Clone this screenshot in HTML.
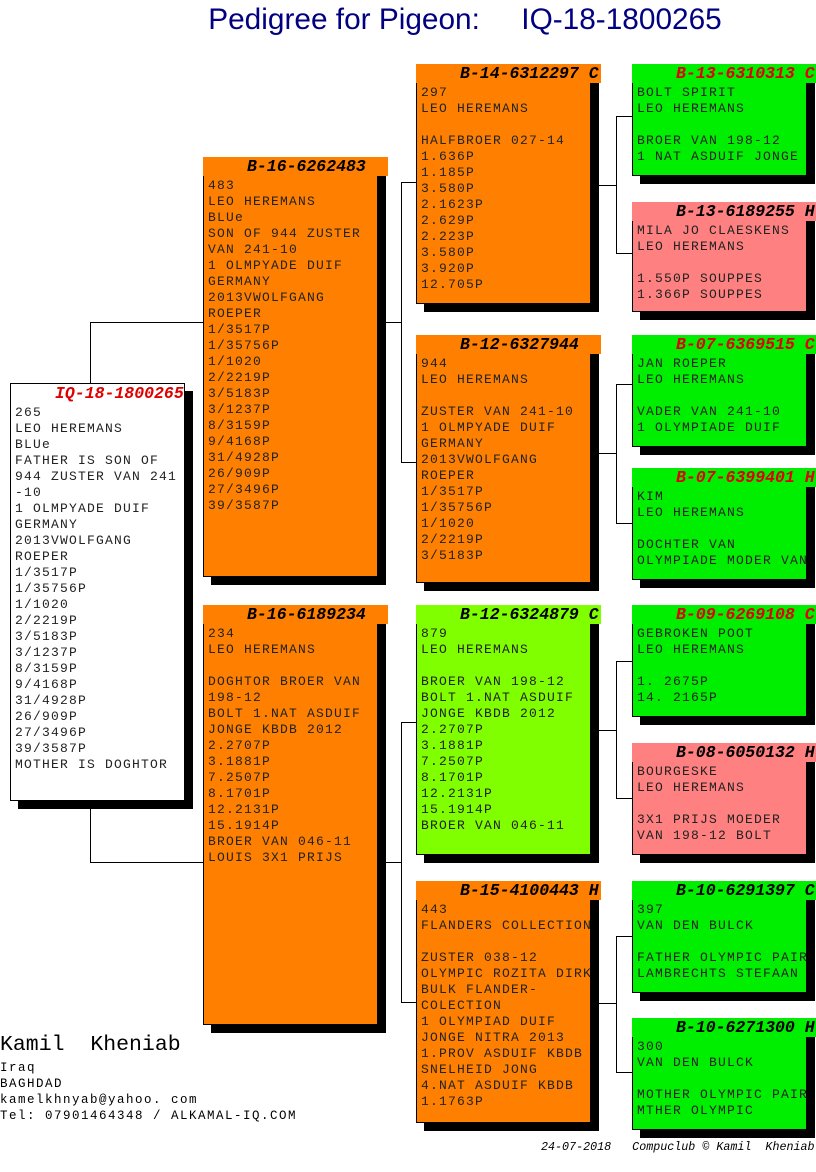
<!DOCTYPE html>
<html><head><meta charset="utf-8"><style>
body{margin:0;width:816px;height:1172px;background:#fff;position:relative;overflow:hidden;font-family:"Liberation Mono",monospace}
.sh{position:absolute;background:#000}
.b{position:absolute;border:1px solid #000;box-sizing:border-box}
.hx{position:absolute;height:19px}
.t{position:absolute;left:44px;font:bold italic 16.5px "Liberation Mono",monospace;white-space:pre;line-height:19px;top:0}
.c{position:absolute;left:4px;top:21px;font-size:13px;letter-spacing:1.2px;line-height:16px;white-space:pre;color:#222}
.l{position:absolute;background:#000}
.o{background:#ff8000}.g{background:#00ee00}.p{background:#ff8080}.lg{background:#80ff00}.w{background:#fff}
</style></head><body>
<div style="position:absolute;left:0;width:930px;top:3px;text-align:center;font:29.8px 'Liberation Sans',sans-serif;color:#000080;white-space:pre">Pedigree for Pigeon:     IQ-18-1800265</div>

<!-- connectors -->
<div class="l" style="left:90px;top:322px;width:1px;height:61px"></div>
<div class="l" style="left:90px;top:322px;width:113px;height:1px"></div>
<div class="l" style="left:90px;top:802px;width:1px;height:60px"></div>
<div class="l" style="left:90px;top:862px;width:113px;height:1px"></div>
<div class="l" style="left:386px;top:322px;width:15px;height:1px"></div>
<div class="l" style="left:401px;top:182px;width:1px;height:280px"></div>
<div class="l" style="left:401px;top:182px;width:15px;height:1px"></div>
<div class="l" style="left:401px;top:462px;width:15px;height:1px"></div>
<div class="l" style="left:386px;top:862px;width:15px;height:1px"></div>
<div class="l" style="left:401px;top:722px;width:1px;height:280px"></div>
<div class="l" style="left:401px;top:722px;width:15px;height:1px"></div>
<div class="l" style="left:401px;top:1002px;width:15px;height:1px"></div>
<div class="l" style="left:599px;top:185px;width:17px;height:1px"></div>
<div class="l" style="left:616px;top:116px;width:1px;height:137px"></div>
<div class="l" style="left:616px;top:116px;width:16px;height:1px"></div>
<div class="l" style="left:616px;top:253px;width:16px;height:1px"></div>
<div class="l" style="left:599px;top:453px;width:17px;height:1px"></div>
<div class="l" style="left:616px;top:384px;width:1px;height:139px"></div>
<div class="l" style="left:616px;top:384px;width:16px;height:1px"></div>
<div class="l" style="left:616px;top:523px;width:16px;height:1px"></div>
<div class="l" style="left:599px;top:730px;width:17px;height:1px"></div>
<div class="l" style="left:616px;top:661px;width:1px;height:137px"></div>
<div class="l" style="left:616px;top:661px;width:16px;height:1px"></div>
<div class="l" style="left:616px;top:798px;width:16px;height:1px"></div>
<div class="l" style="left:599px;top:1003px;width:17px;height:1px"></div>
<div class="l" style="left:616px;top:936px;width:1px;height:136px"></div>
<div class="l" style="left:616px;top:936px;width:16px;height:1px"></div>
<div class="l" style="left:616px;top:1072px;width:16px;height:1px"></div>

<!-- root -->
<div class="sh" style="left:18px;top:391px;width:175px;height:418px"></div>
<div class="b w" style="left:10px;top:383px;width:175px;height:418px">
<div class="t" style="left:44px;color:#e00000">IQ-18-1800265</div>
<div class="c">265
LEO HEREMANS
BLUe
FATHER IS SON OF
944 ZUSTER VAN 241
-10
1 OLMPYADE DUIF
GERMANY
2013VWOLFGANG
ROEPER
1/3517P
1/35756P
1/1020
2/2219P
3/5183P
3/1237P
8/3159P
9/4168P
31/4928P
26/909P
27/3496P
39/3587P
MOTHER IS DOGHTOR</div></div>

<!-- gen1 -->
<div class="sh" style="left:211px;top:165px;width:175px;height:420px"></div>
<div class="b o" style="left:203px;top:157px;width:175px;height:420px;border-top:none">
<div class="c">483
LEO HEREMANS
BLUe
SON OF 944 ZUSTER
VAN 241-10
1 OLMPYADE DUIF
GERMANY
2013VWOLFGANG
ROEPER
1/3517P
1/35756P
1/1020
2/2219P
3/5183P
3/1237P
8/3159P
9/4168P
31/4928P
26/909P
27/3496P
39/3587P</div></div>
<div class="hx o" style="left:203px;top:157px;width:185px"><div class="t">B-16-6262483</div></div>

<div class="sh" style="left:211px;top:613px;width:175px;height:420px"></div>
<div class="b o" style="left:203px;top:605px;width:175px;height:420px;border-top:none">
<div class="c">234
LEO HEREMANS

DOGHTOR BROER VAN
198-12
BOLT 1.NAT ASDUIF
JONGE KBDB 2012
2.2707P
3.1881P
7.2507P
8.1701P
12.2131P
15.1914P
BROER VAN 046-11
LOUIS 3X1 PRIJS</div></div>
<div class="hx o" style="left:203px;top:605px;width:185px"><div class="t">B-16-6189234</div></div>

<!-- gen2 -->
<div class="sh" style="left:424px;top:72px;width:175px;height:240px"></div>
<div class="b o" style="left:416px;top:64px;width:175px;height:240px;border-top:none">
<div class="c">297
LEO HEREMANS

HALFBROER 027-14
1.636P
1.185P
3.580P
2.1623P
2.629P
2.223P
3.580P
3.920P
12.705P</div></div>
<div class="hx o" style="left:416px;top:64px;width:185px"><div class="t">B-14-6312297 C</div></div>

<div class="sh" style="left:424px;top:343px;width:175px;height:248px"></div>
<div class="b o" style="left:416px;top:335px;width:175px;height:248px;border-top:none">
<div class="c">944
LEO HEREMANS

ZUSTER VAN 241-10
1 OLMPYADE DUIF
GERMANY
2013VWOLFGANG
ROEPER
1/3517P
1/35756P
1/1020
2/2219P
3/5183P</div></div>
<div class="hx o" style="left:416px;top:335px;width:185px"><div class="t">B-12-6327944</div></div>

<div class="sh" style="left:424px;top:613px;width:175px;height:250px"></div>
<div class="b lg" style="left:416px;top:605px;width:175px;height:250px;border-top:none">
<div class="c">879
LEO HEREMANS

BROER VAN 198-12
BOLT 1.NAT ASDUIF
JONGE KBDB 2012
2.2707P
3.1881P
7.2507P
8.1701P
12.2131P
15.1914P
BROER VAN 046-11</div></div>
<div class="hx lg" style="left:416px;top:605px;width:185px"><div class="t">B-12-6324879 C</div></div>

<div class="sh" style="left:424px;top:889px;width:175px;height:242px"></div>
<div class="b o" style="left:416px;top:881px;width:175px;height:242px;border-top:none">
<div class="c">443
FLANDERS COLLECTION

ZUSTER 038-12
OLYMPIC ROZITA DIRK
BULK FLANDER-
COLECTION
1 OLYMPIAD DUIF
JONGE NITRA 2013
1.PROV ASDUIF KBDB
SNELHEID JONG
4.NAT ASDUIF KBDB
1.1763P</div></div>
<div class="hx o" style="left:416px;top:881px;width:185px"><div class="t">B-15-4100443 H</div></div>

<!-- gen3 -->
<div class="sh" style="left:640px;top:72px;width:175px;height:112px"></div>
<div class="b g" style="left:632px;top:64px;width:175px;height:112px;border-top:none">
<div class="c">BOLT SPIRIT
LEO HEREMANS

BROER VAN 198-12
1 NAT ASDUIF JONGE</div></div>
<div class="hx g" style="left:632px;top:64px;width:190px"><div class="t" style="color:#e00000">B-13-6310313 C</div></div>

<div class="sh" style="left:640px;top:210px;width:175px;height:110px"></div>
<div class="b p" style="left:632px;top:202px;width:175px;height:110px;border-top:none">
<div class="c">MILA JO CLAESKENS
LEO HEREMANS

1.550P SOUPPES
1.366P SOUPPES</div></div>
<div class="hx p" style="left:632px;top:202px;width:190px"><div class="t">B-13-6189255 H</div></div>

<div class="sh" style="left:640px;top:343px;width:175px;height:112px"></div>
<div class="b g" style="left:632px;top:335px;width:175px;height:112px;border-top:none">
<div class="c">JAN ROEPER
LEO HEREMANS

VADER VAN 241-10
1 OLYMPIADE DUIF</div></div>
<div class="hx g" style="left:632px;top:335px;width:190px"><div class="t" style="color:#e00000">B-07-6369515 C</div></div>

<div class="sh" style="left:640px;top:476px;width:175px;height:112px"></div>
<div class="b g" style="left:632px;top:468px;width:175px;height:112px;border-top:none">
<div class="c">KIM
LEO HEREMANS

DOCHTER VAN
OLYMPIADE MODER VAN</div></div>
<div class="hx g" style="left:632px;top:468px;width:190px"><div class="t" style="color:#e00000">B-07-6399401 H</div></div>

<div class="sh" style="left:640px;top:613px;width:175px;height:112px"></div>
<div class="b g" style="left:632px;top:605px;width:175px;height:112px;border-top:none">
<div class="c">GEBROKEN POOT
LEO HEREMANS

1. 2675P
14. 2165P</div></div>
<div class="hx g" style="left:632px;top:605px;width:190px"><div class="t" style="color:#e00000">B-09-6269108 C</div></div>

<div class="sh" style="left:640px;top:751px;width:175px;height:112px"></div>
<div class="b p" style="left:632px;top:743px;width:175px;height:112px;border-top:none">
<div class="c">BOURGESKE
LEO HEREMANS

3X1 PRIJS MOEDER
VAN 198-12 BOLT</div></div>
<div class="hx p" style="left:632px;top:743px;width:190px"><div class="t">B-08-6050132 H</div></div>

<div class="sh" style="left:640px;top:889px;width:175px;height:112px"></div>
<div class="b g" style="left:632px;top:881px;width:175px;height:112px;border-top:none">
<div class="c">397
VAN DEN BULCK

FATHER OLYMPIC PAIR
LAMBRECHTS STEFAAN</div></div>
<div class="hx g" style="left:632px;top:881px;width:190px"><div class="t">B-10-6291397 C</div></div>

<div class="sh" style="left:640px;top:1026px;width:175px;height:112px"></div>
<div class="b g" style="left:632px;top:1018px;width:175px;height:112px;border-top:none">
<div class="c">300
VAN DEN BULCK

MOTHER OLYMPIC PAIR
MTHER OLYMPIC</div></div>
<div class="hx g" style="left:632px;top:1018px;width:190px"><div class="t">B-10-6271300 H</div></div>

<!-- footer -->
<div style="position:absolute;left:0;top:1033px;font:21.5px 'Liberation Mono',monospace;white-space:pre">Kamil  Kheniab</div>
<div style="position:absolute;left:0;top:1060px;font-size:12.5px;letter-spacing:1.5px;line-height:16px;white-space:pre">Iraq
BAGHDAD
kamelkhnyab@yahoo. com
Tel: 07901464348 / ALKAMAL-IQ.COM</div>
<div style="position:absolute;left:541px;top:1140px;font:italic 11.7px 'Liberation Mono',monospace;white-space:pre">24-07-2018   Compuclub © Kamil  Kheniab</div>
</body></html>
